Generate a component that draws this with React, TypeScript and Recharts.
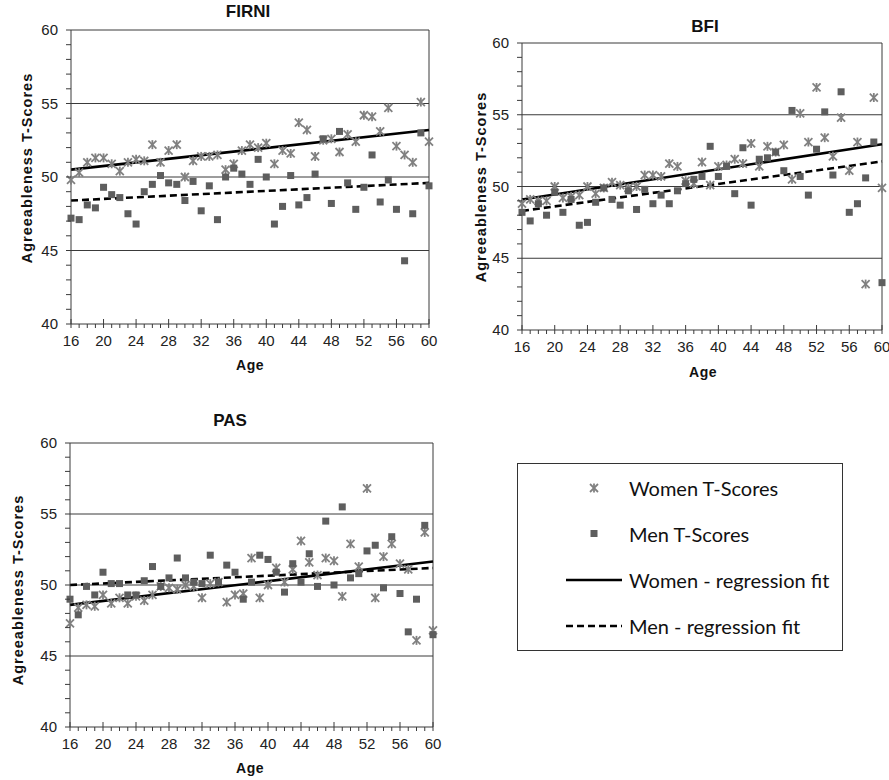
import React from 'react';
import { ScatterChart, Scatter, XAxis, YAxis, ReferenceLine } from 'recharts';

const ages = [
  16, 17, 18, 19, 20, 21, 22, 23, 24, 25, 26, 27, 28, 29, 30, 31, 32, 33, 34, 35, 36, 37, 38,
  39, 40, 41, 42, 43, 44, 45, 46, 47, 48, 49, 50, 51, 52, 53, 54, 55, 56, 57, 58, 59, 60,
];
const ageLabels = [16, 20, 24, 28, 32, 36, 40, 44, 48, 52, 56, 60];
const scoreMinor = [40, 41, 42, 43, 44, 45, 46, 47, 48, 49, 50, 51, 52, 53, 54, 55, 56, 57, 58, 59, 60];
const scoreLabels = [40, 45, 50, 55, 60];
const gridScores = [45, 50, 55];
const fitAges = [16, 60];

const firniWomen = [
  49.8, 50.3, 51.0, 51.3, 51.3, 50.9, 50.4, 51.0, 51.2, 51.1, 52.2, 51.0, 51.8, 52.2, 50.0,
  51.1, 51.4, 51.4, 51.5, 50.5, 50.9, 51.8, 52.2, 52.0, 52.3, 50.9, 51.8, 51.6, 53.7, 53.2,
  51.4, 52.5, 52.6, 51.7, 52.9, 52.4, 54.2, 54.1, 53.1, 54.7, 52.1, 51.5, 51.0, 55.1, 52.4,
];
const firniMen = [
  47.2, 47.1, 48.1, 47.9, 49.3, 48.8, 48.6, 47.5, 46.8, 49.0, 49.5, 50.1, 49.6, 49.5, 48.4,
  49.7, 47.7, 49.4, 47.1, 50.0, 50.6, 50.2, 49.5, 51.2, 50.0, 46.8, 48.0, 50.1, 48.1, 48.6,
  50.2, 52.6, 48.2, 53.1, 49.6, 47.8, 49.3, 51.5, 48.3, 49.8, 47.8, 44.3, 47.5, 53.0, 49.4,
];
const bfiWomen = [
  48.8, 49.1, 49.0, 49.0, 50.0, 49.2, 49.3, 49.4, 50.0, 49.5, 49.9, 50.3, 50.1, 49.9, 50.0,
  50.8, 50.8, 50.7, 51.6, 51.4, 50.4, 50.2, 51.7, 50.1, 51.4, 51.5, 51.9, 51.6, 53.0, 51.4,
  52.8, 52.4, 52.9, 50.5, 55.1, 53.1, 56.9, 53.4, 52.1, 54.8, 51.1, 53.1, 43.2, 56.2, 49.9,
];
const bfiMen = [
  48.2, 47.6, 48.8, 48.0, 49.6, 48.2, 49.1, 47.3, 47.5, 48.9, 49.9, 49.1, 48.7, 49.7, 48.4,
  49.8, 48.8, 49.4, 48.8, 49.7, 50.2, 50.5, 50.7, 52.8, 50.7, 51.4, 49.5, 52.7, 48.7, 51.9,
  52.0, 52.4, 51.1, 55.3, 50.7, 49.4, 52.6, 55.2, 50.8, 56.6, 48.2, 48.8, 50.6, 53.1, 43.3,
];
const pasWomen = [
  47.3, 48.4, 48.6, 48.5, 49.3, 48.7, 49.1, 48.7, 49.2, 48.9, 49.3, 49.9, 49.8, 49.7, 50.0,
  49.9, 49.1, 50.1, 50.2, 48.8, 49.3, 49.4, 51.9, 49.1, 50.0, 51.2, 50.2, 51.1, 53.1, 51.6,
  50.7, 51.9, 51.7, 49.2, 52.9, 51.3, 56.8, 49.1, 52.0, 52.9, 51.5, 51.1, 46.1, 53.7, 46.8,
];
const pasMen = [
  49.0, 47.9, 49.9, 49.3, 50.9, 50.1, 50.1, 49.3, 49.3, 50.3, 51.3, 49.9, 50.5, 51.9, 50.5,
  50.2, 50.1, 52.1, 50.2, 51.4, 50.9, 49.0, 50.2, 52.1, 51.8, 50.9, 49.5, 51.5, 50.2, 52.2,
  49.9, 54.5, 50.0, 55.5, 50.5, 50.8, 52.4, 52.8, 49.8, 53.4, 49.4, 46.7, 49.0, 54.2, 46.5,
];

// regression fit: score at age 16 and age 60
const firniWomenFit = [50.5, 53.2];
const firniMenFit = [48.4, 49.6];
const bfiWomenFit = [49.1, 52.95];
const bfiMenFit = [48.3, 51.75];
const pasWomenFit = [48.6, 51.65];
const pasMenFit = [50.0, 51.2];

const FONT = '"Liberation Sans", Arial, sans-serif';
const WOMEN_COLOR = '#808080';
const MEN_COLOR = '#5e5e5e';
const AXIS_COLOR = '#3a3a3a';

const toPoints = (vals: number[]) => vals.map((v, i) => ({ age: ages[i], score: v }));

const Asterisk = (props: any) => {
  const { cx, cy } = props;
  if (cx == null || cy == null) return null;
  return (
    <g stroke={WOMEN_COLOR} strokeWidth={1.8}>
      <line x1={cx - 4} y1={cy - 4} x2={cx + 4} y2={cy + 4} />
      <line x1={cx - 4} y1={cy + 4} x2={cx + 4} y2={cy - 4} />
      <line x1={cx} y1={cy - 4.5} x2={cx} y2={cy + 4.5} />
    </g>
  );
};

const Square = (props: any) => {
  const { cx, cy } = props;
  if (cx == null || cy == null) return null;
  return <rect x={cx - 3.5} y={cy - 3.5} width={7} height={7} fill={MEN_COLOR} />;
};

const XTick = (props: any) => {
  const { x, y, payload } = props;
  const major = ageLabels.includes(payload.value);
  return (
    <g>
      <line x1={x} x2={x} y1={major ? y - 5 : y} y2={y + 4} stroke={AXIS_COLOR} />
      {major && (
        <text x={x} y={y + 22} textAnchor="middle" fontSize={15} fontFamily={FONT} fill="#222">
          {payload.value}
        </text>
      )}
    </g>
  );
};

const YTick = (props: any) => {
  const { x, y, payload } = props;
  const major = scoreLabels.includes(payload.value);
  return (
    <g>
      <line x1={x - 5} x2={x} y1={y} y2={y} stroke={AXIS_COLOR} />
      {major && (
        <text x={x - 13} y={y + 5} textAnchor="end" fontSize={15} fontFamily={FONT} fill="#222">
          {payload.value}
        </text>
      )}
    </g>
  );
};

type PanelProps = {
  left: number;
  top: number;
  width: number;
  height: number;
  margin: { top: number; right: number; bottom: number; left: number };
  women: number[];
  men: number[];
  womenFit: number[];
  menFit: number[];
};

function Panel({ left, top, width, height, margin, women, men, womenFit, menFit }: PanelProps) {
  return (
    <div style={{ position: 'absolute', left, top }}>
      <ScatterChart width={width} height={height} margin={margin}>
        <XAxis
          type="number"
          dataKey="age"
          domain={[16, 60]}
          ticks={ages}
          interval={0}
          tickSize={0}
          tickMargin={0}
          tickLine={false}
          tick={<XTick />}
          axisLine={{ stroke: AXIS_COLOR }}
          height={40}
        />
        <YAxis
          type="number"
          dataKey="score"
          domain={[40, 60]}
          ticks={scoreMinor}
          interval={0}
          tickSize={0}
          tickMargin={0}
          tickLine={false}
          tick={<YTick />}
          axisLine={{ stroke: AXIS_COLOR }}
          width={40}
        />
        {gridScores.map((g) => (
          <ReferenceLine key={g} y={g} stroke={AXIS_COLOR} strokeWidth={1} />
        ))}
        <ReferenceLine y={60} stroke={AXIS_COLOR} />
        <ReferenceLine x={60} stroke={AXIS_COLOR} />
        <Scatter name="Women T-Scores" data={toPoints(women)} shape={<Asterisk />} isAnimationActive={false} />
        <Scatter name="Men T-Scores" data={toPoints(men)} shape={<Square />} isAnimationActive={false} />
        <ReferenceLine
          segment={[{ x: fitAges[0], y: womenFit[0] }, { x: fitAges[1], y: womenFit[1] }]}
          stroke="#000"
          strokeWidth={2.6}
        />
        <ReferenceLine
          segment={[{ x: fitAges[0], y: menFit[0] }, { x: fitAges[1], y: menFit[1] }]}
          stroke="#000"
          strokeWidth={2.6}
          strokeDasharray="7 4"
        />
      </ScatterChart>
    </div>
  );
}

const abs = (x: number, y: number, extra: React.CSSProperties = {}): React.CSSProperties => ({
  position: 'absolute',
  left: x,
  top: y,
  transform: 'translate(-50%, -50%)',
  whiteSpace: 'nowrap',
  fontFamily: FONT,
  color: '#111',
  ...extra,
});

const title = (text: string, x: number, y: number) => (
  <div style={abs(x, y, { fontSize: 17, fontWeight: 'bold' })}>{text}</div>
);
const ageLabel = (x: number, y: number) => (
  <div style={abs(x, y, { fontSize: 14, fontWeight: 'bold', letterSpacing: 0.5 })}>Age</div>
);
const yLabel = (x: number, y: number) => (
  <div
    style={abs(x, y, {
      fontSize: 14.5,
      fontWeight: 'bold',
      letterSpacing: 1,
      transform: 'translate(-50%, -50%) rotate(-90deg)',
    })}
  >
    Agreeableness T-Scores
  </div>
);

function LegendBox() {
  const item: React.CSSProperties = {
    position: 'absolute',
    left: 111,
    fontFamily: 'Lato, "Open Sans", sans-serif',
    fontSize: 20,
    color: '#111',
    transform: 'translateY(-50%)',
    whiteSpace: 'nowrap',
  };
  return (
    <div
      style={{
        position: 'absolute',
        left: 517,
        top: 463,
        width: 326,
        height: 188,
        border: '1.5px solid #333',
        boxSizing: 'border-box',
        background: '#fff',
      }}
    >
      <svg width={326} height={188} style={{ position: 'absolute', left: -1.5, top: -1.5 }}>
        <Asterisk cx={77} cy={25} />
        <rect x={73.5} y={67} width={7} height={7} fill={MEN_COLOR} />
        <line x1={49} x2={105} y1={117} y2={117} stroke="#000" strokeWidth={2.6} />
        <line x1={49} x2={105} y1={163} y2={163} stroke="#000" strokeWidth={2.6} strokeDasharray="7 4" />
      </svg>
      <div style={{ ...item, top: 24 }}>Women T-Scores</div>
      <div style={{ ...item, top: 70 }}>Men T-Scores</div>
      <div style={{ ...item, top: 116 }}>Women - regression fit</div>
      <div style={{ ...item, top: 162 }}>Men - regression fit</div>
    </div>
  );
}

export default function App() {
  return (
    <div style={{ position: 'absolute', left: 0, top: 0, width: 889, height: 780, background: '#fff', overflow: 'hidden' }}>
      <Panel
        left={0}
        top={0}
        width={445}
        height={380}
        margin={{ top: 30, right: 16, bottom: 16, left: 31 }}
        women={firniWomen}
        men={firniMen}
        womenFit={firniWomenFit}
        menFit={firniMenFit}
      />
      <Panel
        left={450}
        top={0}
        width={439}
        height={390}
        margin={{ top: 43, right: 7, bottom: 20, left: 32 }}
        women={bfiWomen}
        men={bfiMen}
        womenFit={bfiWomenFit}
        menFit={bfiMenFit}
      />
      <Panel
        left={0}
        top={400}
        width={445}
        height={380}
        margin={{ top: 43, right: 12, bottom: 13, left: 30 }}
        women={pasWomen}
        men={pasMen}
        womenFit={pasWomenFit}
        menFit={pasMenFit}
      />
      {title('FIRNI', 248, 12)}
      {title('BFI', 705, 27)}
      {title('PAS', 230, 421)}
      {ageLabel(250, 365)}
      {ageLabel(703, 372)}
      {ageLabel(250, 768)}
      {yLabel(27, 168)}
      {yLabel(481, 187)}
      {yLabel(18, 590)}
      <LegendBox />
    </div>
  );
}
